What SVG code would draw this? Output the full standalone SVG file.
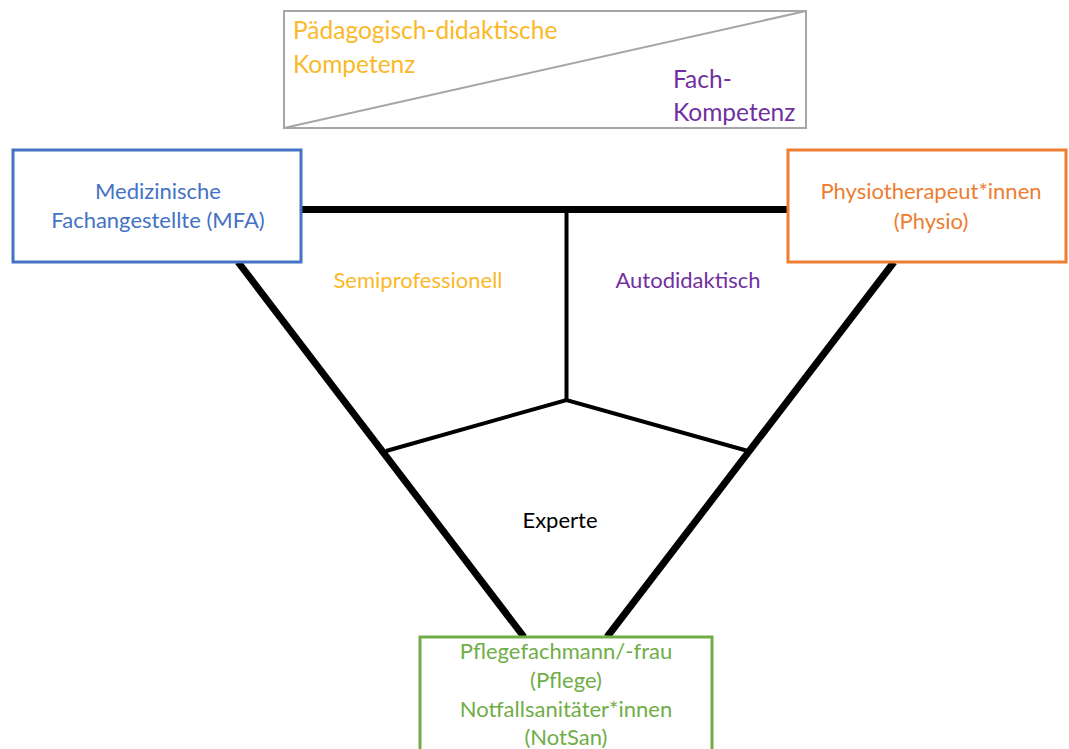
<svg xmlns="http://www.w3.org/2000/svg" width="1069" height="749" viewBox="0 0 1069 749">
  <style>
    text { font-family: Lato, "Liberation Sans", sans-serif; font-size: 22px; text-anchor: middle; }
    .legend-text { font-size: 24.5px; text-anchor: start; }
    .box { fill: #ffffff; stroke-width: 3; }
    .thick { stroke: #000; stroke-width: 7; fill: none; }
    .thin { stroke: #000; stroke-width: 4; fill: none; stroke-linejoin: miter; }
    .yellow { fill: #FBB829; }
    .purple { fill: #7030A0; }
  </style>
  <rect width="1069" height="749" fill="#ffffff"/>

  <!-- legend: split competence box -->
  <g id="legend">
    <rect x="284" y="11" width="522" height="117" fill="#fff" stroke="#a6a6a6" stroke-width="2"/>
    <line x1="284" y1="128" x2="806" y2="11" stroke="#a6a6a6" stroke-width="2"/>
    <text x="293" y="39" class="yellow legend-text">Pädagogisch-didaktische</text>
    <text x="293" y="73" class="yellow legend-text">Kompetenz</text>
    <text x="673" y="88" class="purple legend-text">Fach-</text>
    <text x="673" y="121" class="purple legend-text">Kompetenz</text>
  </g>

  <!-- connectors -->
  <g id="connectors">
    <line class="thick" x1="301" y1="209.5" x2="787" y2="209.5"/>
    <line class="thick" x1="238" y1="262" x2="524" y2="637"/>
    <line class="thick" x1="894" y1="262" x2="607" y2="637"/>
    <line class="thin" x1="566.5" y1="209" x2="566.5" y2="400"/>
    <polyline class="thin" points="386,451 566.5,400 748,451"/>
  </g>

  <!-- region labels -->
  <g id="label-semiprofessionell">
    <text x="418" y="288" class="yellow">Semiprofessionell</text>
  </g>
  <g id="label-autodidaktisch">
    <text x="688" y="288" class="purple">Autodidaktisch</text>
  </g>
  <g id="label-experte">
    <text x="560" y="528" fill="#000">Experte</text>
  </g>

  <g id="node-mfa">
    <rect class="box" x="13" y="150" width="288" height="112" stroke="#4472C4"/>
    <text x="158" y="199" fill="#4472C4">Medizinische</text>
    <text x="158" y="228" fill="#4472C4">Fachangestellte (MFA)</text>
  </g>

  <g id="node-physio">
    <rect class="box" x="788" y="150" width="278" height="112" stroke="#ED7D31"/>
    <text x="931" y="199" fill="#ED7D31">Physiotherapeut*innen</text>
    <text x="931" y="229" fill="#ED7D31">(Physio)</text>
  </g>

  <g id="node-pflege">
    <rect class="box" x="420" y="637" width="292" height="120" stroke="#70AD47"/>
    <text x="566" y="659" fill="#70AD47">Pflegefachmann/-frau</text>
    <text x="566" y="688" fill="#70AD47">(Pflege)</text>
    <text x="566" y="717" fill="#70AD47">Notfallsanitäter*innen</text>
    <text x="566" y="745" fill="#70AD47">(NotSan)</text>
  </g>
</svg>
